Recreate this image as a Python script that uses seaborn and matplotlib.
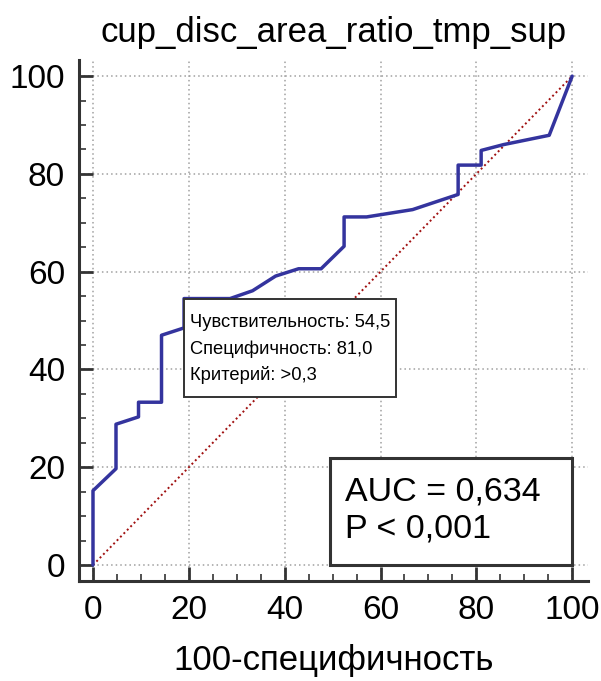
import numpy as np
import pandas as pd
import matplotlib
matplotlib.use("Agg")
import matplotlib.pyplot as plt
from matplotlib.ticker import MultipleLocator
from matplotlib.patches import Rectangle
import seaborn as sns

# ROC curve data (100-specificity, sensitivity)
fpr = [0, 0, 4.8, 4.8, 9.5, 9.5, 14.3, 14.3, 19.0, 19.0, 28.6, 33.3, 38.1,
       42.9, 47.6, 52.4, 52.4, 57.1, 66.7, 76.2, 76.2, 81.0, 81.0, 85.7, 95.2, 100]
tpr = [0, 15.2, 19.7, 28.8, 30.3, 33.3, 33.3, 47.0, 48.5, 54.5, 54.5, 56.1, 59.1,
       60.6, 60.6, 65.2, 71.2, 71.2, 72.7, 75.8, 81.8, 81.8, 84.8, 86.0, 87.9, 100]
diag = [0, 100]

title = "cup_disc_area_ratio_tmp_sup"
xlabel = "100-специфичность"
ann_lines = ["Чувствительность: 54,5", "Специфичность: 81,0", "Критерий: >0,3"]
auc_lines = ["AUC = 0,634", "P < 0,001"]
ticks = [0, 20, 40, 60, 80, 100]

sns.set_theme(style="white")
plt.rcParams['font.family'] = ['Liberation Sans', 'DejaVu Sans']
plt.rcParams['text.color'] = 'black'
plt.rcParams['xtick.color'] = 'black'
plt.rcParams['ytick.color'] = 'black'
plt.rcParams['axes.labelcolor'] = 'black'

fig = plt.figure(figsize=(6.01, 6.81), dpi=100)
ax = fig.add_axes([79/601, 100/681, 509/601, 521/681])

df = pd.DataFrame({"x": fpr, "y": tpr})
ax.plot(diag, diag, color="#A01010", linestyle=(0, (1, 1.5)), linewidth=1.4, zorder=3)
sns.lineplot(data=df, x="x", y="y", sort=False, estimator=None, ax=ax,
             color="#34349E", linewidth=2.5, zorder=4)

ax.set_xlim(-2.92, 103.3)
ax.set_ylim(-3.27, 103.3)
ax.set_xticks(ticks)
ax.set_yticks(ticks)
ax.xaxis.set_minor_locator(MultipleLocator(5))
ax.yaxis.set_minor_locator(MultipleLocator(5))
ax.grid(True, which="major", color="#a0a0a0", linestyle=(0, (1, 2)), linewidth=1.1)
ax.set_axisbelow(True)

for s in ["top", "right"]:
    ax.spines[s].set_visible(False)
for s in ["left", "bottom"]:
    ax.spines[s].set_visible(True)
    ax.spines[s].set_color("#333333")
    ax.spines[s].set_linewidth(2.2)

ax.tick_params(which="major", direction="in", length=10, width=2.0, color="#333333",
               labelcolor="black", labelsize=24, pad=10, bottom=True, left=True)
ax.tick_params(which="minor", direction="in", length=5, width=1.2, color="#333333",
               bottom=True, left=True)
ax.set_xlabel(xlabel, fontsize=25, labelpad=13, color="black")
ax.set_ylabel("")
ax.set_title(title, fontsize=25, pad=13, color="black")

# criterion annotation box
ax.add_patch(Rectangle((19.05, 34.4), 44.2, 20.1, facecolor="white",
                       edgecolor="#333333", linewidth=1.4, zorder=6))
for i, t in enumerate(ann_lines):
    ax.text(20.3, 49.6 - i * 5.4, t, fontsize=13.2, va="center", ha="left",
            color="black", zorder=7)

# AUC box
ax.add_patch(Rectangle((49.5, 0.0), 50.5, 21.9, facecolor="white",
                       edgecolor="#333333", linewidth=2.2, zorder=6))
for i, t in enumerate(auc_lines):
    ax.text(52.6, 15.0 - i * 7.6, t, fontsize=24.5, va="center", ha="left",
            color="black", zorder=7)

fig.savefig("out.png", dpi=100)
